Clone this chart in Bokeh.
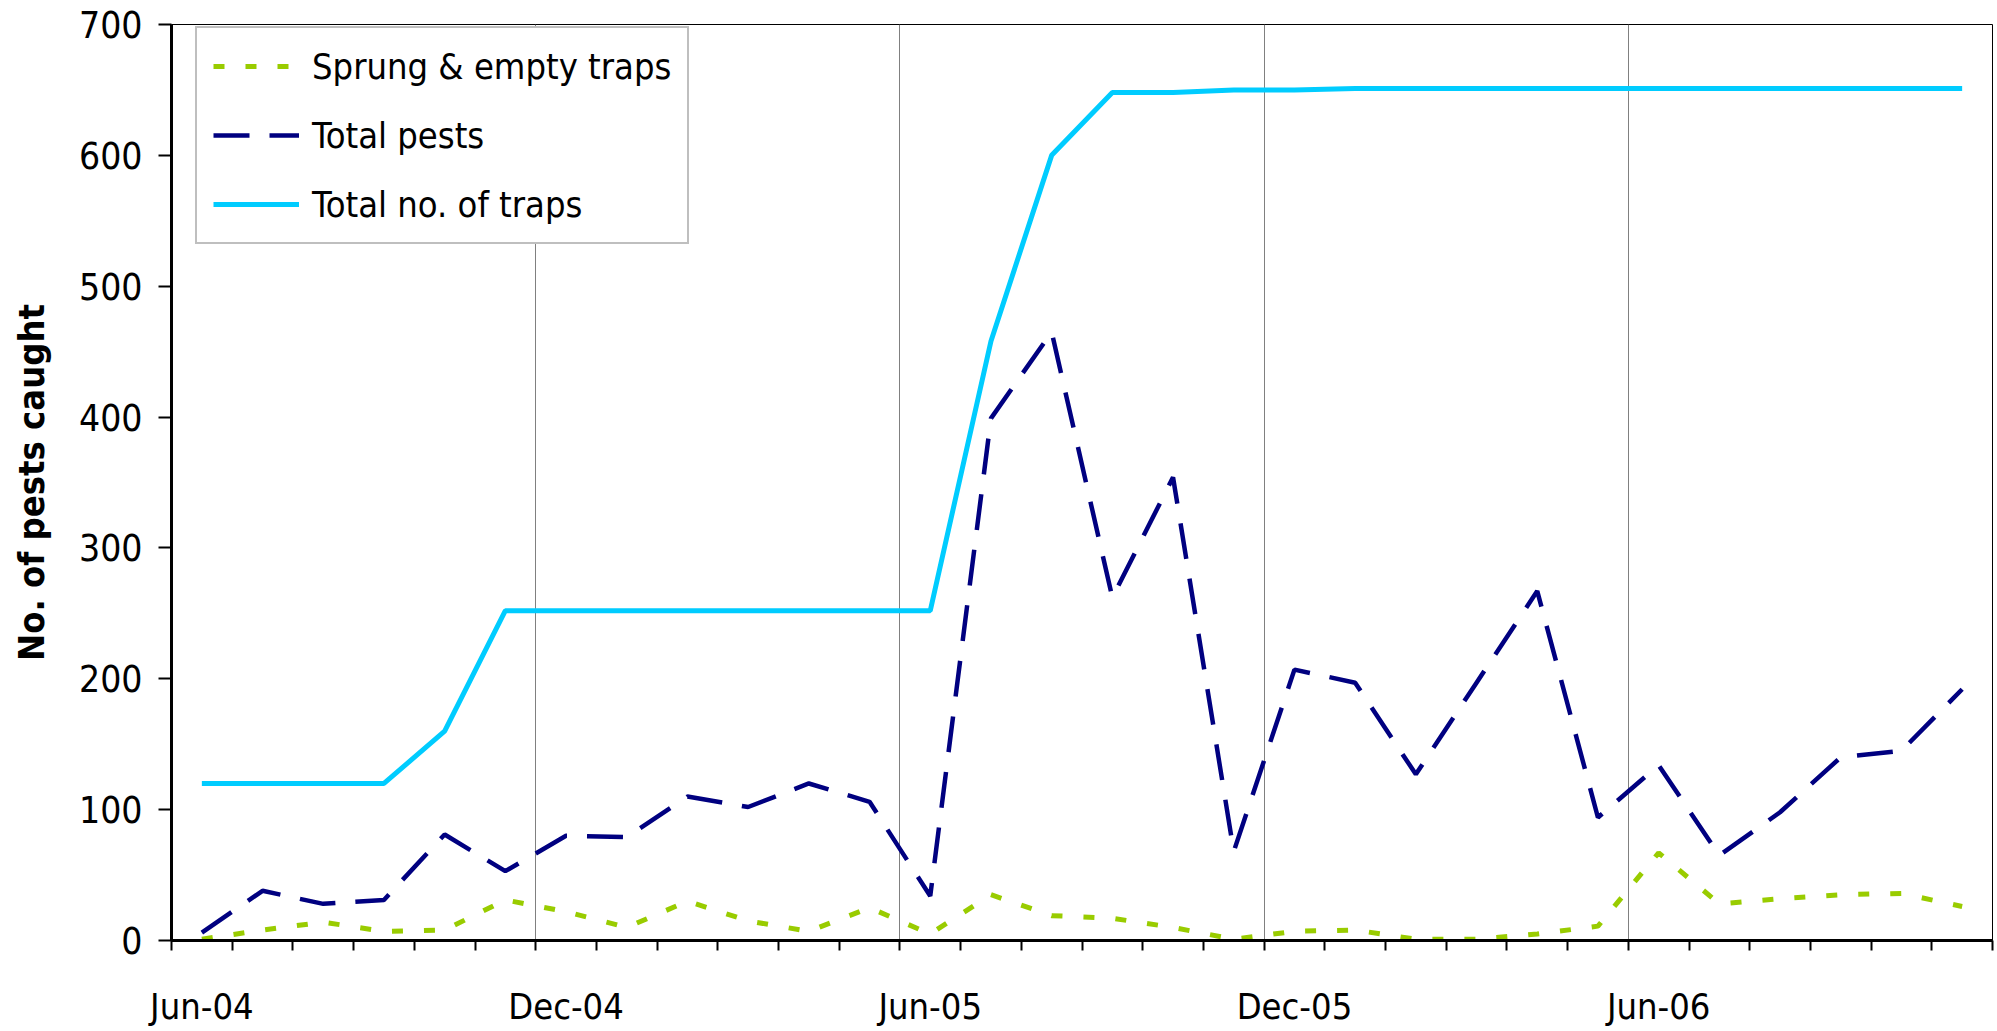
from bokeh.plotting import figure
from bokeh.models import Range1d, FixedTicker, Grid, Legend, LegendItem
from bokeh.embed import file_html
from bokeh.resources import INLINE

# ---- data (monthly categories, Jun-04 .. Nov-06) ----
months = ["Jun-04", "Jul-04", "Aug-04", "Sep-04", "Oct-04", "Nov-04",
          "Dec-04", "Jan-05", "Feb-05", "Mar-05", "Apr-05", "May-05",
          "Jun-05", "Jul-05", "Aug-05", "Sep-05", "Oct-05", "Nov-05",
          "Dec-05", "Jan-06", "Feb-06", "Mar-06", "Apr-06", "May-06",
          "Jun-06", "Jul-06", "Aug-06", "Sep-06", "Oct-06", "Nov-06"]
sprung = [1, 8, 14, 7, 8, 31, 22, 10, 30, 15, 7, 25, 5, 35, 19, 17, 10, 1,
          7, 8, 1, 1, 5, 11, 67, 28, 32, 35, 36, 26]
pests = [6, 38, 28, 31, 81, 53, 80, 79, 110, 102, 120, 106, 34, 399, 465, 262,
         354, 68, 207, 197, 127, 197, 267, 94, 134, 65, 98, 140, 145, 192]
traps = [120, 120, 120, 120, 160, 252, 252, 252, 252, 252, 252, 252, 252, 458,
         600, 648, 648, 650, 650, 651, 651, 651, 651, 651, 651, 651, 651, 651,
         651, 651]
label_idx = [0, 6, 12, 18, 24]
y_ticks = [0, 100, 200, 300, 400, 500, 600, 700]

FONT = "'Liberation Sans Narrow', 'Arial Narrow', 'DejaVu Sans Condensed', 'Liberation Sans', sans-serif"
n = len(months)
x = list(range(n))

p = figure(width=1995, height=1029, output_backend="svg", toolbar_location=None,
           x_range=Range1d(-0.5, n - 0.5), y_range=Range1d(0, 700),
           min_border_left=171, min_border_right=3,
           min_border_top=24, min_border_bottom=77)
p.background_fill_color = "white"
p.border_fill_color = "white"
p.outline_line_color = "black"
p.outline_line_width = 1
p.ygrid.visible = False
p.xgrid.visible = False

# y axis
ya = p.yaxis[0]
ya.ticker = FixedTicker(ticks=y_ticks, minor_ticks=[])
ya.major_tick_out = 13
ya.major_tick_in = 0
ya.major_tick_line_width = 2
ya.axis_line_width = 3
ya.major_label_standoff = 16
ya.major_label_text_font = FONT
ya.major_label_text_font_size = "37px"
ya.major_label_text_color = "black"
ya.axis_label = "No. of pests caught"
ya.axis_label_text_font = FONT
ya.axis_label_text_font_style = "bold"
ya.axis_label_text_font_size = "36px"
ya.axis_label_text_color = "black"
ya.axis_label_standoff = 24

# x axis: labels centred on categories, tick marks between categories
bounds = [i - 0.5 for i in range(n + 1)]
xa = p.xaxis[0]
xa.ticker = FixedTicker(ticks=[x[i] for i in label_idx], minor_ticks=bounds)
xa.major_label_overrides = {x[i]: months[i] for i in label_idx}
xa.major_tick_line_color = None
xa.major_tick_out = 0
xa.major_tick_in = 0
xa.minor_tick_out = 10
xa.minor_tick_in = 0
xa.minor_tick_line_width = 2
xa.minor_tick_line_color = "black"
xa.axis_line_width = 3
xa.major_label_standoff = 35
xa.major_label_text_font = FONT
xa.major_label_text_font_size = "36px"
xa.major_label_text_color = "black"

# vertical gridlines every 6 months
grid = Grid(dimension=0, ticker=FixedTicker(ticks=[bounds[i] for i in label_idx[1:]]),
            grid_line_color="#808080", grid_line_width=1)
p.add_layout(grid)

r_traps = p.line(x, traps, line_color="#00CCFF", line_width=5)
r_pests = p.line(x, pests, line_color="#000080", line_width=4.5, line_dash="36 20")
r_sprung = p.line(x, sprung, line_color="#99CC00", line_width=5, line_dash="11 21")

legend = Legend(items=[LegendItem(label="Sprung & empty traps", renderers=[r_sprung]),
                       LegendItem(label="Total pests", renderers=[r_pests]),
                       LegendItem(label="Total no. of traps", renderers=[r_traps])],
                location=(24, 696), padding=16, spacing=25, glyph_width=86,
                glyph_height=44, label_height=44, label_standoff=13,
                label_text_font=FONT, label_text_font_size="36px",
                label_text_color="black", border_line_color="#808080",
                border_line_width=2, background_fill_color="white",
                background_fill_alpha=1.0, margin=0)
p.add_layout(legend)

open("out.html", "w").write(file_html(p, INLINE))
